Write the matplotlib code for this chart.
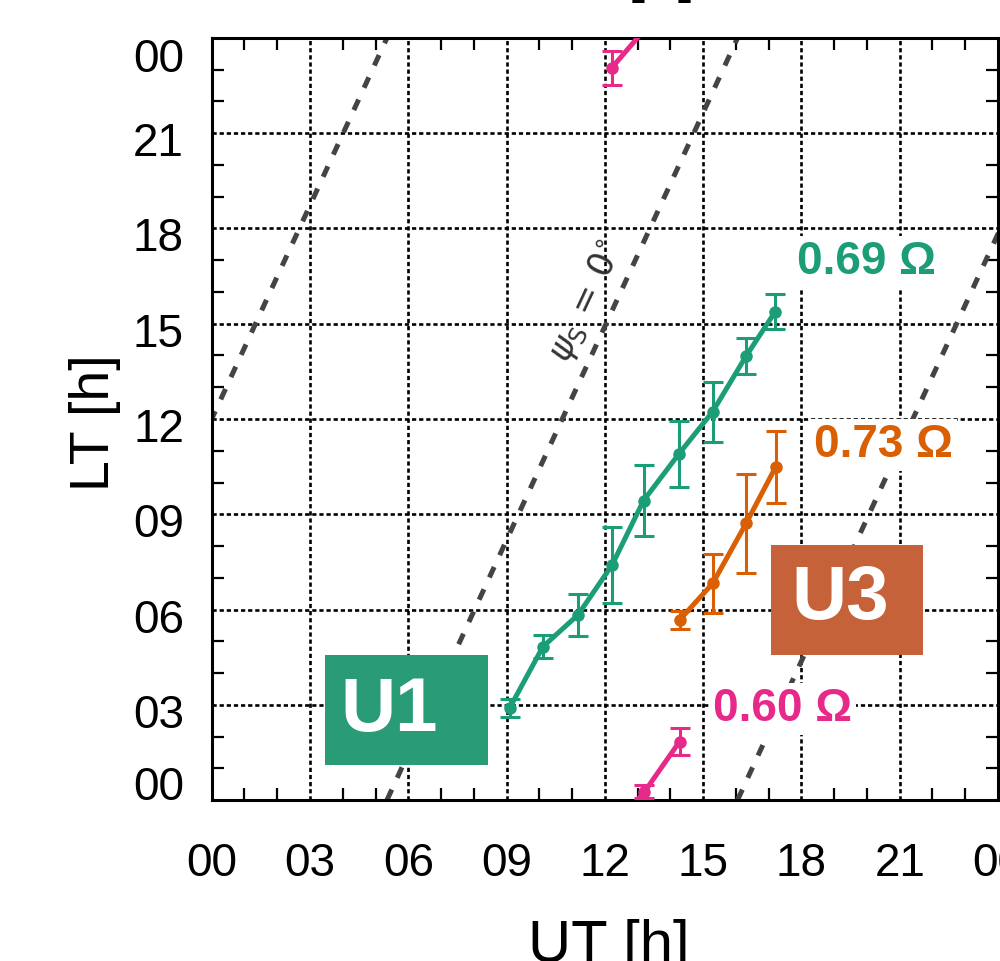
import numpy as np
import matplotlib
matplotlib.use('Agg')
import matplotlib.pyplot as plt
from matplotlib.patches import Rectangle
from matplotlib.transforms import ScaledTranslation

plt.rcParams['font.family'] = ['Liberation Sans', 'DejaVu Sans']

# U1 track (0.69 Omega)
ut_u1 = [9.09, 10.11, 11.18, 12.22, 13.18, 14.26, 15.29, 16.31, 17.20]
lt_u1 = [2.89, 4.83, 5.83, 7.40, 9.43, 10.90, 12.23, 13.98, 15.38]
err_u1 = [0.28, 0.37, 0.67, 1.20, 1.12, 1.05, 0.94, 0.56, 0.55]

# U3 track (0.73 Omega)
ut_u3 = [14.28, 15.29, 16.31, 17.22]
lt_u3 = [5.67, 6.82, 8.71, 10.50]
err_u3 = [0.29, 0.94, 1.55, 1.13]

# 0.60 Omega track, LT unwrapped past midnight
ut_p = [12.21, 13.21, 14.28]
lt_p = [23.06, 24.26, 25.84]
err_p = [0.54, 0.20, 0.43]

# psi_S = 0 guide lines: UT where LT = 00 and where it reaches 24
psi_ut_start = [-5.35, 5.35, 16.05]
psi_ut_end = [5.35, 16.05, 26.75]

hour_ticks = [0, 3, 6, 9, 12, 15, 18, 21, 24]
hour_labels = ['00', '03', '06', '09', '12', '15', '18', '21', '00']

green = '#1b9e77'
orange = '#d95f02'
pink = '#e7298a'

fig = plt.figure(figsize=(10, 9.61), dpi=100)
ax = fig.add_axes([0.2117, 0.1675, 0.7863, 0.793])

ax.set_xlim(0, 24)
ax.set_ylim(0, 24)
ax.set_xticks(hour_ticks)
ax.set_xticklabels(hour_labels)
ax.set_yticks(hour_ticks)
ax.set_yticklabels(hour_labels)
ax.set_xticks(np.arange(0, 25, 1), minor=True)
ax.set_yticks(np.arange(0, 25, 1), minor=True)
ax.tick_params(which='major', length=0, labelsize=33)
ax.tick_params(axis='x', which='major', pad=30)
ax.tick_params(axis='y', which='major', pad=20)
ax.tick_params(which='minor', direction='in', length=8.5, width=1.6,
               top=True, right=True)
for s in ax.spines.values():
    s.set_linewidth(2.2)

# end labels sit inside the axis range, the rest a little below their line
ylab = ax.get_yticklabels()
ylab[0].set_va('baseline')
ylab[-1].set_va('top')
shift = ScaledTranslation(0, -0.06, fig.dpi_scale_trans)
for lab in ylab[1:-1]:
    lab.set_transform(lab.get_transform() + shift)

ax.grid(which='major', color='k', linestyle=(0, (1.6, 1.1)), lw=1.9, zorder=1)

for a, b in zip(psi_ut_start, psi_ut_end):
    ax.plot([a, b], [0, 24], color='#444444', lw=3.6, dashes=(2.3, 2.6), zorder=2)

ax.text(11.45, 15.7, r'$\psi_{\rm S}\,=\,\mathit{0}^{\circ}$', rotation=65,
        fontsize=25, color='#333333', ha='center', va='center', zorder=3)

eb = dict(lw=3.6, marker='o', ms=8, elinewidth=2.2, capsize=7, capthick=2.2, zorder=6)
ax.errorbar(ut_u1, lt_u1, yerr=err_u1, color=green, **eb)
ax.errorbar(ut_u3, lt_u3, yerr=err_u3, color=orange, **eb)
ax.errorbar(ut_p, lt_p, yerr=err_p, color=pink, **eb)
ax.errorbar(ut_p, np.array(lt_p) - 24, yerr=err_p, color=pink, **eb)

box = dict(facecolor='white', edgecolor='none', pad=3)
ax.text(19.98, 16.94, '0.69 Ω', color=green, fontsize=33, fontweight='bold',
        ha='center', va='center', bbox=box, zorder=4)
ax.text(20.5, 11.18, '0.73 Ω', color=orange, fontsize=33, fontweight='bold',
        ha='center', va='center', bbox=box, zorder=4)
ax.text(17.42, 2.87, '0.60 Ω', color=pink, fontsize=33, fontweight='bold',
        ha='center', va='center', bbox=box, zorder=4)

ax.add_patch(Rectangle((3.46, 1.10), 4.97, 3.47, facecolor='#2a9b77',
                       edgecolor='none', zorder=4))
ax.text(5.41, 2.80, 'U1', color='white', fontsize=55, fontweight='bold',
        ha='center', va='center', zorder=5)
ax.add_patch(Rectangle((17.07, 4.57), 4.64, 3.46, facecolor='#c6623a',
                       edgecolor='none', zorder=4))
ax.text(19.17, 6.30, 'U3', color='white', fontsize=55, fontweight='bold',
        ha='center', va='center', zorder=5)

ax.set_xlabel('UT [h]', fontsize=43)
ax.xaxis.set_label_coords(0.505, -0.156)
ax.set_ylabel('LT [h]', fontsize=40)
ax.yaxis.set_label_coords(-0.115, 0.495)

fig.text(0.662, 1 + 10 / 961, '[h]', fontsize=44, ha='center', va='baseline')

fig.savefig('out.png', dpi=100)
